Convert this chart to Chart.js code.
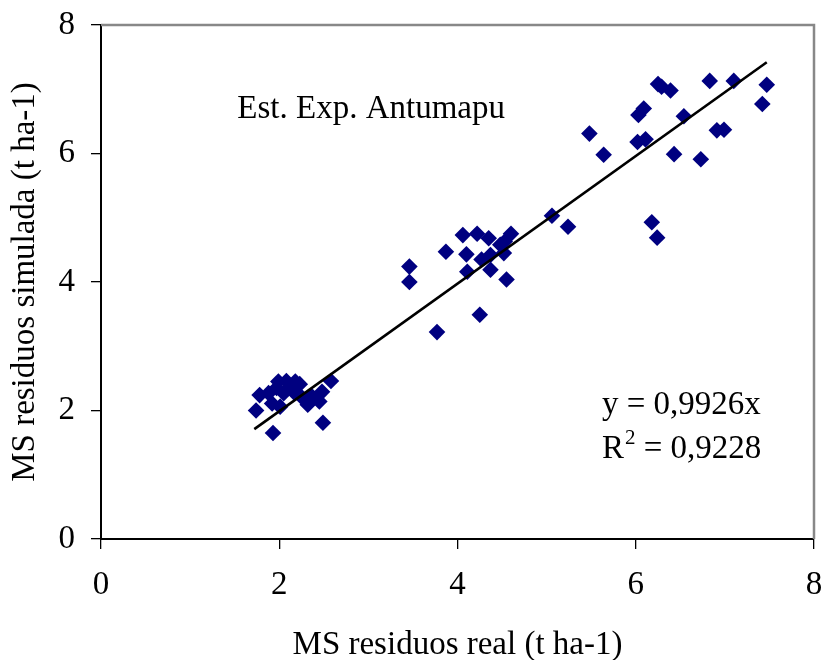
<!DOCTYPE html>
<html>
<head>
<meta charset="utf-8">
<script src="https://cdn.jsdelivr.net/npm/chart.js@4/dist/chart.umd.min.js"></script>
<style>
  html, body { margin: 0; padding: 0; background: #fff; }
  #wrap { width: 826px; height: 660px; }
</style>
</head>
<body>
<div id="wrap"><canvas id="c" width="826" height="660"></canvas></div>
<script>
const realX = [
  1.74, 1.78, 1.93, 1.88, 1.92, 1.99, 2.01, 2.05, 2.08, 2.16, 2.18, 2.23, 2.25, 2.32, 2.36, 2.45, 2.48, 2.49, 2.58, 1.97, 2.12,
  3.46, 3.46, 3.77, 3.87, 4.06, 4.10, 4.11, 4.22, 4.25, 4.27, 4.35, 4.37, 4.37, 4.48, 4.52, 4.53, 4.55, 4.60, 5.06, 5.24,
  5.48, 5.64, 6.03, 6.09, 6.02, 6.11, 6.18, 6.24, 6.25, 6.29, 6.39, 6.43, 6.54, 6.73, 6.83, 6.91, 6.99, 7.10, 7.42, 7.47
];
const simY = [
  2.00, 2.24, 1.65, 2.27, 2.11, 2.45, 2.06, 2.27, 2.46, 2.29, 2.45, 2.41, 2.21, 2.09, 2.23, 2.14, 2.29, 1.81, 2.46, 2.35, 2.36,
  4.24, 4.00, 3.22, 4.47, 4.73, 4.43, 4.16, 4.75, 3.49, 4.35, 4.68, 4.42, 4.19, 4.58, 4.45, 4.63, 4.04, 4.75, 5.03, 4.86,
  6.31, 5.98, 6.60, 6.70, 6.18, 6.22, 4.93, 4.69, 7.08, 7.04, 6.98, 5.99, 6.58, 5.91, 7.13, 6.36, 6.37, 7.13, 6.77, 7.07
];
// Trend line end points
const trendX = [1.72, 7.47];
const trendY = [1.71, 7.42];
const xTickValues = [0, 2, 4, 6, 8];
const yTickValues = [0, 2, 4, 6, 8];
const xTitle = 'MS residuos real (t ha-1)';
const yTitle = 'MS residuos simulada (t ha-1)';
const siteLabel = 'Est. Exp. Antumapu';
const eqLabel = 'y = 0,9926x';
const r2Value = ' = 0,9228';

const FONT = '"Liberation Serif", "Times New Roman", serif';
const FS = 33;

const points = realX.map((x, i) => ({ x: x, y: simY[i] }));
const trend = trendX.map((x, i) => ({ x: x, y: trendY[i] }));

const noPad = s => { s.paddingTop = 0; s.paddingBottom = 0; s.paddingLeft = 0; s.paddingRight = 0; };

const decor = {
  id: 'decor',
  beforeDatasetsDraw(chart) {
    const { ctx, chartArea: a } = chart;
    ctx.save();
    ctx.strokeStyle = '#888888';
    ctx.lineWidth = 2.5;
    ctx.beginPath();
    ctx.moveTo(a.left, a.top);
    ctx.lineTo(a.right, a.top);
    ctx.lineTo(a.right, a.bottom);
    ctx.stroke();
    ctx.restore();
  },
  afterDraw(chart) {
    const { ctx, scales: { x, y } } = chart;
    ctx.save();
    ctx.fillStyle = '#000';
    ctx.textBaseline = 'alphabetic';
    ctx.textAlign = 'left';
    ctx.font = FS + 'px ' + FONT;
    ctx.fillText(siteLabel, x.getPixelForValue(1.53), y.getPixelForValue(6.55));
    const ex = x.getPixelForValue(5.62);
    ctx.fillText(eqLabel, ex, y.getPixelForValue(1.95));
    const ry = y.getPixelForValue(1.26);
    ctx.fillText('R', ex, ry);
    const rw = ctx.measureText('R').width;
    ctx.font = '21px ' + FONT;
    ctx.fillText('2', ex + rw + 1, ry - 14);
    const sw = ctx.measureText('2').width;
    ctx.font = FS + 'px ' + FONT;
    ctx.fillText(r2Value, ex + rw + 1 + sw, ry);
    ctx.restore();
  }
};

new Chart(document.getElementById('c'), {
  type: 'scatter',
  data: {
    datasets: [
      {
        type: 'line',
        data: trend,
        borderColor: '#000',
        borderWidth: 2.6,
        pointRadius: 0,
        fill: false,
        order: 0
      },
      {
        data: points,
        pointStyle: 'rectRot',
        pointRadius: 8.3,
        backgroundColor: '#000080',
        borderColor: '#000080',
        borderWidth: 0,
        order: 1
      }
    ]
  },
  options: {
    responsive: false,
    animation: false,
    devicePixelRatio: 1,
    layout: { padding: { left: 0, top: 25, right: 12, bottom: 0 } },
    plugins: { legend: { display: false }, tooltip: { enabled: false } },
    scales: {
      x: {
        type: 'linear',
        min: 0, max: 8,
        afterBuildTicks: s => { s.ticks = xTickValues.map(v => ({ value: v })); },
        afterFit: s => { s.height = 121; noPad(s); },
        ticks: { color: '#000', padding: 17, font: { family: FONT, size: FS }, maxRotation: 0 },
        grid: { drawOnChartArea: false, drawTicks: true, tickLength: 10, tickColor: '#000', lineWidth: 1.3 },
        border: { display: true, color: '#000', width: 2 },
        title: { display: true, text: xTitle, color: '#000', font: { family: FONT, size: FS, lineHeight: 0.875 }, padding: { top: 0, bottom: 0 } }
      },
      y: {
        type: 'linear',
        min: 0, max: 8,
        afterBuildTicks: s => { s.ticks = yTickValues.map(v => ({ value: v })); },
        afterFit: s => { s.width = 101; noPad(s); },
        ticks: { color: '#000', padding: 16, font: { family: FONT, size: FS } },
        grid: { drawOnChartArea: false, drawTicks: true, tickLength: 10, tickColor: '#000', lineWidth: 1.3 },
        border: { display: true, color: '#000', width: 2 },
        title: { display: true, text: yTitle, color: '#000', font: { family: FONT, size: FS, lineHeight: 0.875 }, padding: { top: 11, bottom: 0 } }
      }
    }
  },
  plugins: [decor]
});
</script>
</body>
</html>
